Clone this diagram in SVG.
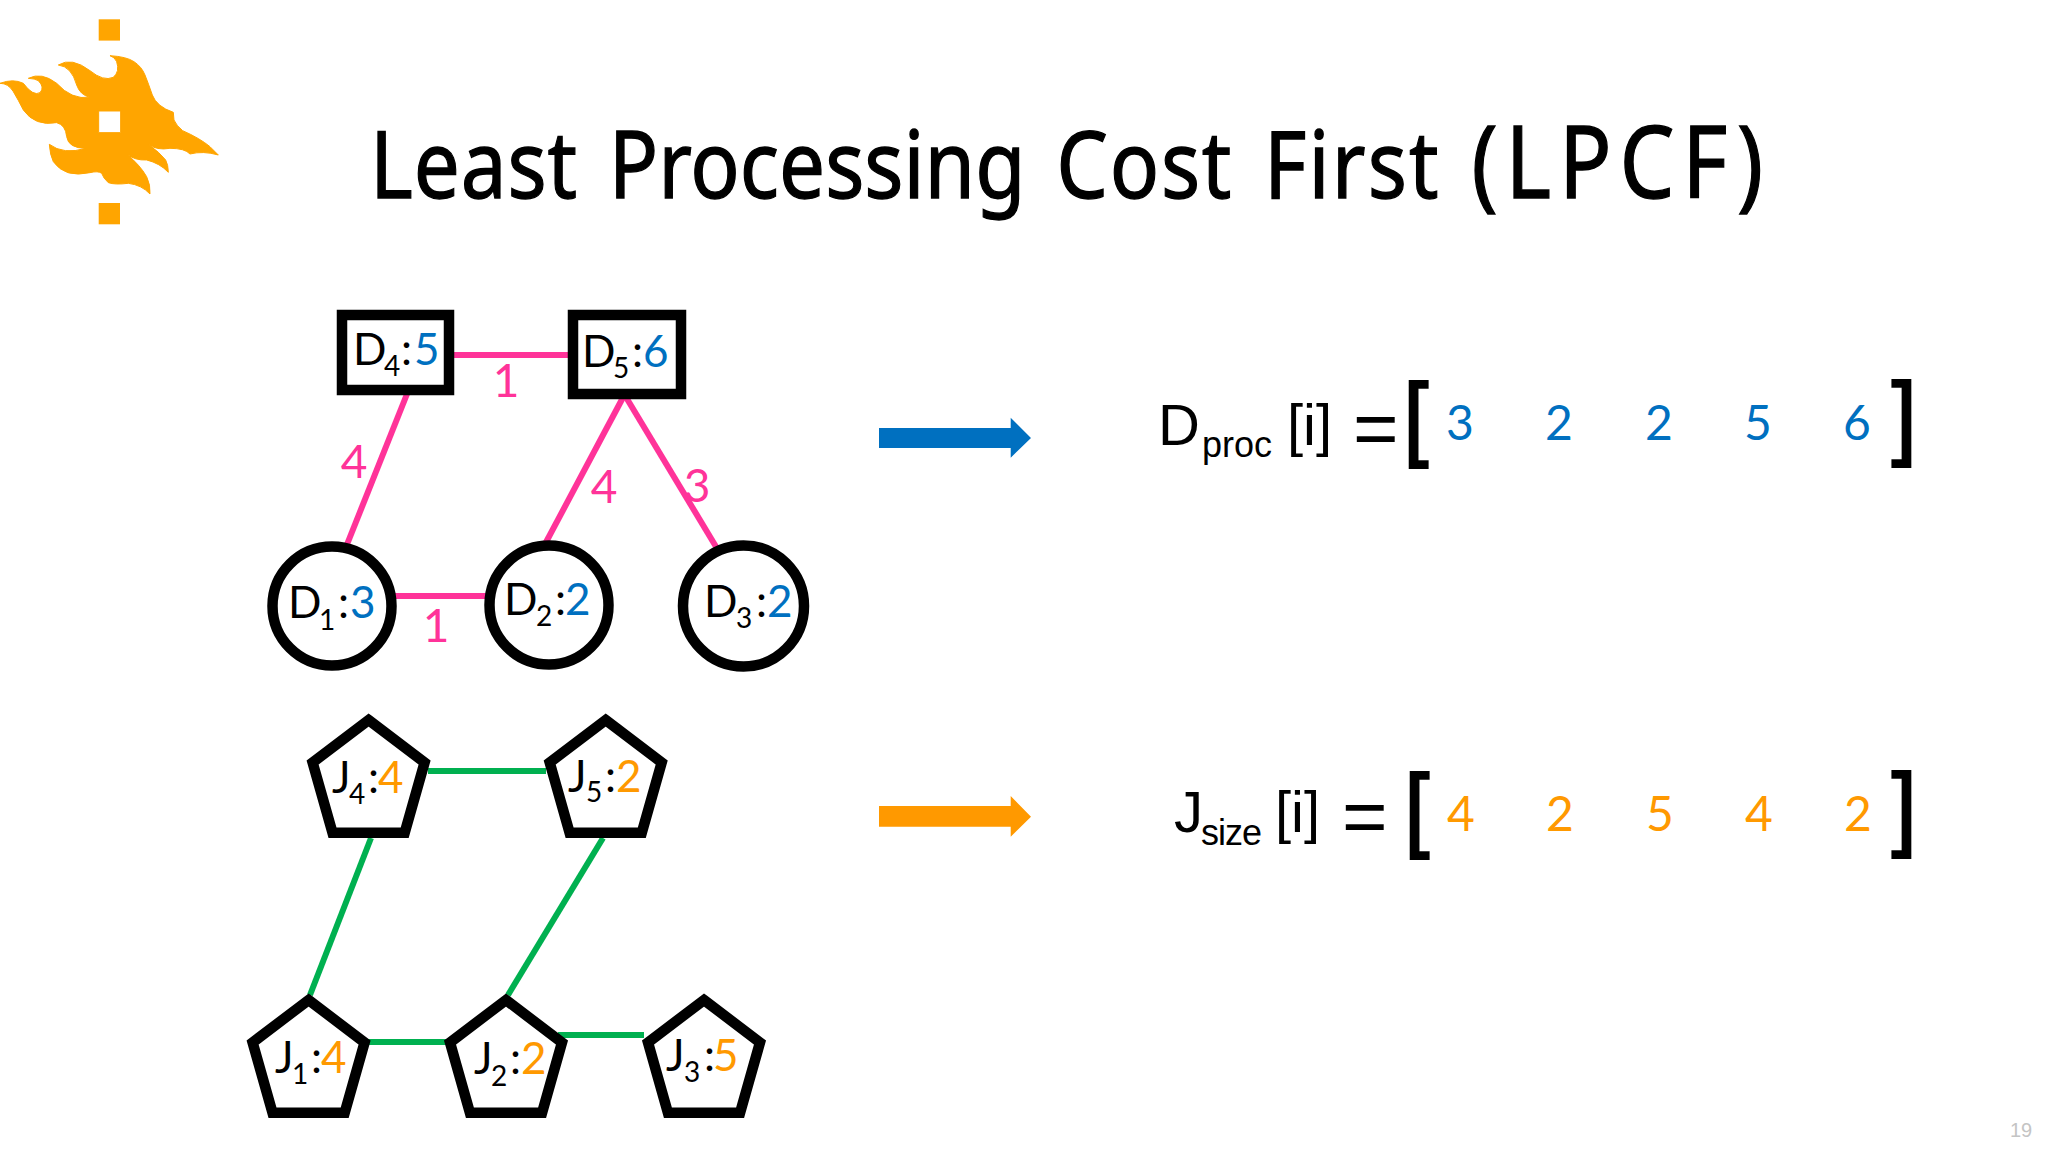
<svg xmlns="http://www.w3.org/2000/svg" width="2048" height="1152" viewBox="0 0 2048 1152">
<style>
text{font-family:"Lato","Liberation Sans",sans-serif;fill:#000}
.title{font-family:"Noto Sans","Liberation Sans",sans-serif;font-size:94px;stroke:#000;stroke-width:1.3;word-spacing:11px}
.f{font-family:"Liberation Sans",sans-serif;font-size:58px}
.fs{font-family:"Liberation Sans",sans-serif;font-size:36px}
.fb{font-family:"Liberation Sans",sans-serif;font-size:94px;font-weight:700}
.n{font-size:44px}
.s{font-size:28px}
.b{fill:#0070c0}
.o{fill:#ff9900}
.p{fill:#ff3399;font-size:46px;text-anchor:middle}
.v{font-size:48px;text-anchor:middle}
.node{fill:#fff;stroke:#000;stroke-width:10.5}
.pink{stroke:#ff3399;stroke-width:6;fill:none}
.green{stroke:#00b050;stroke-width:6;fill:none}
</style>
<defs>
<polygon id="penta" points="0,7 56,49.5 36.1,119.8 -36.1,119.8 -56,49.5" class="node"/>
</defs>
<rect width="2048" height="1152" fill="#fff"/>
<g id="logo">
<rect x="98.7" y="19.3" width="21.3" height="21.3" fill="#ffa500"/>
<rect x="98.7" y="203" width="21.3" height="21.3" fill="#ffa500"/>
<path fill="#ffa500" stroke="#ffa500" stroke-width="3" fill-rule="evenodd" transform="scale(0.3333)" d="M330,167Q380,170 402,185Q425,200 435,225Q445,250 457,285Q470,320 520,337L522,360Q530,378 548,392Q600,415 630,440L655,465Q610,452 570,462Q555,445 510,445Q470,452 445,433Q480,458 497,480Q505,495 505,517Q480,490 440,480Q405,482 380,462Q420,495 440,530Q452,555 450,582Q425,555 385,550Q345,555 325,548Q310,535 305,520Q295,512 270,518Q195,535 160,485Q150,465 148,433Q190,465 258,445Q205,445 200,410Q197,375 170,368Q105,380 70,330Q55,300 40,275Q25,250 0,250Q40,235 70,250Q100,290 120,278Q135,262 115,242Q105,236 85,235Q125,215 170,250Q215,300 270,292Q240,285 230,255Q215,200 175,195Q215,170 270,212Q310,245 340,232Q360,215 350,185Q345,172 330,167ZM296,333H362V398H296Z"/>
</g>
<text id="title" class="title" transform="translate(370,198) scale(0.87,1)"><tspan letter-spacing="1">Least</tspan> Processing <tspan letter-spacing="2">Cost</tspan> <tspan letter-spacing="2.5">First</tspan> <tspan font-size="100" letter-spacing="9">(LPCF)</tspan></text>
<g id="connectors">
<line class="pink" x1="450" y1="355" x2="570" y2="355"/>
<line class="pink" x1="395" y1="596" x2="488" y2="596"/>
<line class="pink" x1="407" y1="394" x2="346" y2="547"/>
<line class="pink" x1="622.7" y1="398" x2="544" y2="546"/>
<line class="pink" x1="626.5" y1="398" x2="718" y2="550"/>
<line class="green" x1="428" y1="771" x2="546" y2="771"/>
<line class="green" x1="371" y1="838" x2="310" y2="995"/>
<line class="green" x1="603" y1="838" x2="508" y2="995"/>
<line class="green" x1="368" y1="1042" x2="446" y2="1042"/>
<line class="green" x1="558" y1="1035" x2="644" y2="1035"/>
<polygon points="879,428 1010.7,428 1010.7,417.7 1031,438 1010.7,457.7 1010.7,448 879,448" fill="#0070c0"/>
<polygon points="879,806 1010.7,806 1010.7,796 1031,816.7 1010.7,836.7 1010.7,826.7 879,826.7" fill="#ff9900"/>
</g>
<g id="edge-labels">
<text class="p" x="506" y="397">1</text>
<text class="p" x="354" y="478">4</text>
<text class="p" x="604" y="503">4</text>
<text class="p" x="697" y="502">3</text>
<text class="p" x="436" y="642">1</text>
</g>
<g id="D4"><rect class="node" x="342" y="315" width="107" height="75"/><text class="n" x="353" y="365">D<tspan class="s" x="384" y="376">4</tspan><tspan x="401" y="365">:</tspan><tspan class="b" x="414" y="365">5</tspan></text></g>
<g id="D5"><rect class="node" x="573" y="315" width="108" height="79"/><text class="n" x="582" y="367">D<tspan class="s" x="613" y="378">5</tspan><tspan x="632" y="367">:</tspan><tspan class="b" x="643" y="367">6</tspan></text></g>
<g id="D1"><circle class="node" cx="332" cy="606" r="59.5"/><text class="n" x="288" y="618">D<tspan class="s" x="319" y="630">1</tspan><tspan x="338" y="618">:</tspan><tspan class="b" x="350" y="618">3</tspan></text></g>
<g id="D2"><circle class="node" cx="549" cy="605" r="59.5"/><text class="n" x="504" y="615">D<tspan class="s" x="536" y="626">2</tspan><tspan x="555" y="615">:</tspan><tspan class="b" x="565" y="615">2</tspan></text></g>
<g id="D3"><circle class="node" cx="743.5" cy="606" r="60.5"/><text class="n" x="704" y="617">D<tspan class="s" x="736" y="628">3</tspan><tspan x="756" y="617">:</tspan><tspan class="b" x="767" y="617">2</tspan></text></g>
<g id="J4"><use href="#penta" x="368.6" y="713"/><text class="n" x="332" y="793">J<tspan class="s" x="349" y="804">4</tspan><tspan x="368" y="793">:</tspan><tspan class="o" x="378" y="793">4</tspan></text></g>
<g id="J5"><use href="#penta" x="605.7" y="713"/><text class="n" x="568" y="792">J<tspan class="s" x="586" y="802">5</tspan><tspan x="605" y="792">:</tspan><tspan class="o" x="616" y="792">2</tspan></text></g>
<g id="J1"><use href="#penta" x="308.6" y="993"/><text class="n" x="275" y="1073">J<tspan class="s" x="292" y="1084">1</tspan><tspan x="311" y="1073">:</tspan><tspan class="o" x="321" y="1073">4</tspan></text></g>
<g id="J2"><use href="#penta" x="506" y="993"/><text class="n" x="474" y="1074">J<tspan class="s" x="491" y="1086">2</tspan><tspan x="510" y="1074">:</tspan><tspan class="o" x="521" y="1074">2</tspan></text></g>
<g id="J3"><use href="#penta" x="704" y="993"/><text class="n" x="666" y="1071">J<tspan class="s" x="684" y="1082">3</tspan><tspan x="704" y="1071">:</tspan><tspan class="o" x="713" y="1071">5</tspan></text></g>
<g id="dproc">
<text class="f" x="1158" y="445">D<tspan class="fs" x="1202" y="457">proc</tspan><tspan x="1287" y="445">[i]</tspan><tspan x="1353" y="455" font-size="78">=</tspan></text>
<text class="fb" transform="translate(1404.6,449) scale(0.8,1)">[</text>
<text class="b v" x="1460" y="440">3</text>
<text class="b v" x="1559" y="440">2</text>
<text class="b v" x="1659" y="440">2</text>
<text class="b v" x="1758" y="440">5</text>
<text class="b v" x="1857" y="440">6</text>
<text class="fb" transform="translate(1890.6,448) scale(0.8,1)">]</text>
</g>
<g id="jsize">
<text class="f" x="1174" y="832">J<tspan class="fs" x="1201" y="845" letter-spacing="-1">size</tspan><tspan x="1275" y="832">[i]</tspan><tspan x="1342" y="843" font-size="78">=</tspan></text>
<text class="fb" transform="translate(1405.6,840) scale(0.8,1)">[</text>
<text class="o v" x="1461" y="831">4</text>
<text class="o v" x="1560" y="831">2</text>
<text class="o v" x="1660" y="831">5</text>
<text class="o v" x="1759" y="831">4</text>
<text class="o v" x="1858" y="831">2</text>
<text class="fb" transform="translate(1890.6,839) scale(0.8,1)">]</text>
</g>
<text id="page" x="2010" y="1137" style="font-family:'Liberation Sans',sans-serif;font-size:20px;fill:#c4c4c4">19</text>
</svg>
